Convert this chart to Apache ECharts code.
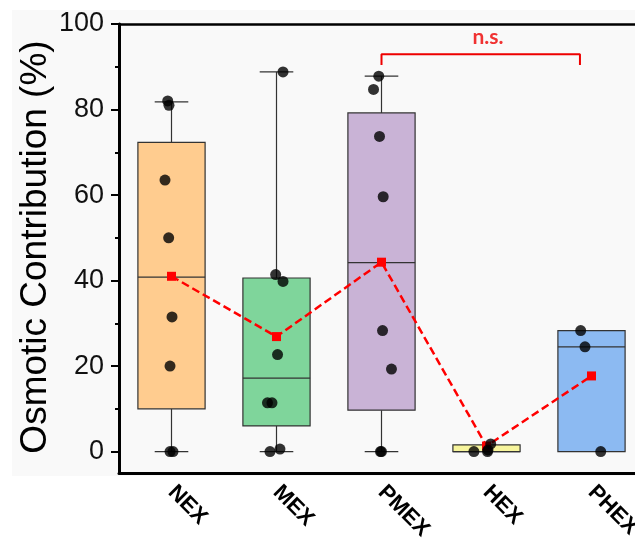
<!DOCTYPE html>
<html><head><meta charset="utf-8">
<script src="https://cdn.jsdelivr.net/npm/echarts@6/dist/echarts.min.js"></script>
<style>html,body{margin:0;padding:0;background:#fff}#c{width:635px;height:538px}</style>
</head><body><div id="c"></div>
<script>
const categories = ['NEX','MEX','PMEX','HEX','PHEX'];
// [min, Q1, median, Q3, max]
const boxStats = [
  [0, 10.0, 40.8, 72.3, 81.8],
  [0, 6.0, 17.2, 40.6, 88.8],
  [0, 9.7, 44.2, 79.2, 87.8],
  [0, 0, 0, 1.6, 1.6],
  [0, 0, 24.5, 28.3, 28.3]
];
const means = [41.0, 26.9, 44.3, 1.3, 17.7];
const pointValues = [
  [82, 81, 63.5, 50, 31.5, 20, 0, 0],
  [88.8, 41.4, 39.8, 22.7, 11.4, 11.4, 0, 0.6],
  [87.8, 84.7, 73.7, 59.6, 28.3, 19.3, 0, 0],
  [0, 0, 0.4, 1.8],
  [28.3, 24.5, 0]
];
const pointJitter = [
  [-0.036, -0.024, -0.062, -0.027, 0.005, -0.014, -0.014, 0.014],
  [0.062, -0.008, 0.062, 0.01, -0.086, -0.043, -0.062, 0.033],
  [-0.026, -0.076, -0.019, 0.016, 0.01, 0.095, -0.01, 0],
  [-0.12, 0.01, 0.014, 0.04],
  [-0.103, -0.062, 0.088]
];
const boxColors = ['#FFCC8F','#7FD59B','#C9B3D6','#F7F59C','#8CBAF2'];
const bracketPts = [[2.5, 90.4],[2.5, 92.9],[4.39, 92.9],[4.39, 90.4]];
const bracketLabel = 'n.s.';
const bracketLabelPos = [3.514, 97.0];
const yTicks = [0,20,40,60,80,100];
const yMinorTicks = [10,30,50,70,90];

const chart = echarts.init(document.getElementById('c'));
const boxData = boxStats.map((s,i)=>[i+0.5].concat(s).concat([i]));
const scatterData = [];
pointValues.forEach((arr,i)=>arr.forEach((v,j)=>scatterData.push([i+0.5+pointJitter[i][j], v])));
const meanData = means.map((m,i)=>[i+0.5, m]);
const FONT = 'Liberation Sans, Arial, sans-serif';

chart.setOption({
  animation:false,
  backgroundColor:'#ffffff',
  graphic:[
    {type:'rect', z:-10, shape:{x:12,y:10,width:640,height:466}, style:{fill:'#f9f9f9'}},
    {type:'text', z:10, x:36, y:247, rotation:Math.PI/2,
     style:{text:'Osmotic Contribution (%)', font:'37px '+FONT, fill:'#000', textAlign:'center', textVerticalAlign:'middle'}}
  ],
  grid:{left:119, top:24, width:525, height:449, containLabel:false, outerBoundsMode:'none'},
  xAxis:[
    {type:'category', data:categories, position:'bottom', boundaryGap:true,
     axisLine:{onZero:false, lineStyle:{color:'#000', width:3}},
     axisTick:{show:false}, splitLine:{show:false},
     axisLabel:{rotate:-45, margin:16, fontSize:22, fontWeight:'bold', fontFamily:FONT, color:'#000', hideOverlap:false}},
    {type:'value', min:0, max:5, position:'top',
     axisLine:{show:true, onZero:false, lineStyle:{color:'#000', width:2.5}},
     axisTick:{show:false}, axisLabel:{show:false}, splitLine:{show:false}}
  ],
  yAxis:[
    {type:'value', min:-5, max:100, position:'left',
     axisLine:{show:true, onZero:false, lineStyle:{color:'#000', width:3}},
     axisTick:{show:true, length:8, customValues:yTicks, lineStyle:{color:'#000', width:2}},
     axisLabel:{customValues:yTicks, fontSize:27, fontFamily:FONT, color:'#111', margin:15},
     splitLine:{show:false}},
    {type:'value', min:-5, max:100, position:'left',
     axisLine:{show:false},
     axisTick:{show:true, length:4, customValues:yMinorTicks, lineStyle:{color:'#000', width:2}},
     axisLabel:{show:false}, splitLine:{show:false}}
  ],
  series:[
    {type:'custom', xAxisIndex:1, yAxisIndex:0, z:2,
     renderItem:function(params, api){
       const x = api.value(0);
       const mn=api.value(1), q1=api.value(2), md=api.value(3), q3=api.value(4), mx=api.value(5);
       const idx = api.value(6);
       const w = api.size([0.64,0])[0];
       const cw = w/2;
       const pMin = api.coord([x,mn]), pQ1=api.coord([x,q1]), pMd=api.coord([x,md]), pQ3=api.coord([x,q3]), pMax=api.coord([x,mx]);
       const cx = pMin[0];
       const ls = {stroke:'#333', lineWidth:1.2};
       const ch = [];
       if (mx>q3){
         ch.push({type:'line', shape:{x1:cx,y1:pQ3[1],x2:cx,y2:pMax[1]}, style:ls});
         ch.push({type:'line', shape:{x1:cx-cw/2,y1:pMax[1],x2:cx+cw/2,y2:pMax[1]}, style:ls});
       }
       if (mn<q1){
         ch.push({type:'line', shape:{x1:cx,y1:pQ1[1],x2:cx,y2:pMin[1]}, style:ls});
         ch.push({type:'line', shape:{x1:cx-cw/2,y1:pMin[1],x2:cx+cw/2,y2:pMin[1]}, style:ls});
       }
       ch.push({type:'rect', shape:{x:cx-w/2, y:pQ3[1], width:w, height:pQ1[1]-pQ3[1]},
                style:{fill:boxColors[idx], stroke:'#333', lineWidth:1.2}});
       ch.push({type:'line', shape:{x1:cx-w/2,y1:pMd[1],x2:cx+w/2,y2:pMd[1]}, style:ls});
       return {type:'group', children:ch};
     },
     encode:{x:0, y:[1,2,3,4,5]},
     data:boxData},
    {type:'line', xAxisIndex:1, yAxisIndex:0, z:4, data:meanData,
     symbol:'rect', symbolSize:9, itemStyle:{color:'#ff0000'},
     lineStyle:{color:'#ff0000', width:2.5, type:[8,4]}},
    {type:'scatter', xAxisIndex:1, yAxisIndex:0, z:5, data:scatterData,
     symbol:'circle', symbolSize:11, itemStyle:{color:'#000'}},
    {type:'line', xAxisIndex:1, yAxisIndex:0, z:5, data:bracketPts, symbol:'none',
     lineStyle:{color:'#ee0000', width:2}},
    {type:'scatter', xAxisIndex:1, yAxisIndex:0, z:5, data:[bracketLabelPos], symbolSize:0,
     label:{show:true, position:'inside', formatter:bracketLabel, color:'#ee0000', fontSize:21, fontWeight:'bold', fontFamily:'Lato, sans-serif'}}
  ]
});
</script></body></html>
